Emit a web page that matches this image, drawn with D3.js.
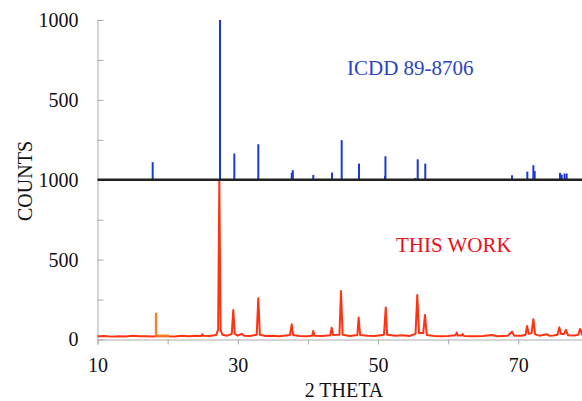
<!DOCTYPE html>
<html>
<head>
<meta charset="utf-8">
<script src="https://cdn.jsdelivr.net/npm/d3@7"></script>
<style>
    body { margin: 0; background: #fff; }
    svg { display: block; }
</style>
</head>
<body>
<div id="chart"></div>
<script>
// x axis ticks (2 THETA)
const xTicks = [10, 20, 30, 40, 50, 60, 70, 80];
const xTickLabels = ["10", "", "30", "", "50", "", "70", ""];

// y axis: the reference pattern is shifted up by 1000 counts
const yTicks = [0, 250, 500, 750, 1000, 1250, 1500, 1750, 2000];
const yTickLabels = ["0", "", "500", "", "1000", "", "500", "", "1000"];
const refOffset = 1000;

// ICDD 89-8706 stick pattern
const icddAngles = [17.87, 27.47, 29.51, 32.93, 37.70, 37.85, 40.77, 43.44, 44.82, 47.29,
    51.00, 51.06, 55.32, 55.66, 56.74, 69.11, 71.29, 72.15, 72.34, 75.95, 76.19, 76.60, 76.90];
const icddCounts = [110, 1000, 164, 222, 43, 60, 30, 45, 248, 101,
    24, 147, 11, 128, 101, 28, 51, 91, 55, 43, 32, 39, 39];

// measured pattern (THIS WORK)
const workAngles = [10, 11, 12, 13, 14, 15, 16, 17, 18, 19, 20, 21, 22, 23, 24, 24.8, 24.95, 25.1, 26,
    26.9, 27.2, 27.37, 27.55, 27.8, 28.5, 29.15, 29.36, 29.57, 30, 30.55, 30.9, 31.8,
    32.7, 32.93, 33.15, 34, 35, 36, 37.45, 37.69, 37.9, 38.8, 39.8, 40.6, 40.77, 40.95, 42,
    43.2, 43.39, 43.58, 44.5, 44.72, 44.95, 46, 47.05, 47.24, 47.45, 48.5, 49.5, 50.85, 51.1, 51.3,
    52.5, 53.5, 54.5, 55.35, 55.6, 55.85, 56.45, 56.7, 56.95, 58, 59, 60, 61.05, 61.22, 61.4,
    61.9, 62.07, 62.25, 63.5, 65, 66.2, 67, 68.5, 69.11, 69.4, 70.5, 71.05, 71.25, 71.5, 71.9,
    72.15, 72.4, 73, 74.05, 74.4, 75, 75.6, 75.85, 76.1, 76.5, 76.8, 77.1, 78, 78.55, 78.8, 79.1, 80];
const workCounts = [20, 22, 18, 21, 19, 23, 20, 21, 19, 22, 20, 19, 23, 21, 24, 22, 32, 23, 22,
    28, 60, 995, 60, 30, 24, 35, 185, 35, 24, 35, 24, 22,
    30, 258, 30, 22, 24, 21, 28, 95, 28, 22, 20, 24, 53, 24, 22,
    26, 74, 28, 30, 304, 30, 22, 28, 137, 28, 24, 22, 30, 200, 30,
    24, 27, 22, 35, 279, 40, 40, 154, 28, 22, 20, 22, 26, 43, 25,
    25, 34, 22, 21, 22, 28, 21, 24, 49, 24, 24, 30, 85, 35, 40,
    127, 32, 24, 33, 24, 25, 30, 76, 35, 35, 60, 26, 25, 30, 66, 30, 25];

// marked impurity peak
const impurityAngles = [18.35, 18.35, 20.2];
const impurityCounts = [168, 24, 24];

const serif = "'Liberation Serif', 'Times New Roman', Times, serif";

function renderChart() {
    const width = 582, height = 401;

    const svg = d3.select("#chart").append("svg")
        .attr("width", width)
        .attr("height", height);

    const x = d3.scaleLinear()
        .domain([10, 80])
        .range([97.5, 588.4]);

    const y = d3.scaleLinear()
        .domain([0, 2000])
        .range([339.5, 20]);

    // x axis
    const xAxis = svg.append("g")
        .attr("transform", "translate(0," + y(0) + ")")
        .call(d3.axisBottom(x)
            .tickValues(xTicks)
            .tickSize(5)
            .tickPadding(13)
            .tickFormat((d, i) => xTickLabels[i]));
    xAxis.attr("font-family", serif).attr("font-size", 20);
    xAxis.select(".domain").attr("stroke", "#aaa");
    xAxis.selectAll(".tick line").attr("stroke", "#aaa");
    xAxis.selectAll("text").style("font-family", serif).style("font-size", "20px").attr("fill", "#111");

    // y axis
    const yAxis = svg.append("g")
        .attr("transform", "translate(" + x(10) + ",0)")
        .call(d3.axisLeft(y)
            .tickValues(yTicks)
            .tickSizeInner(-6)
            .tickSizeOuter(0)
            .tickPadding(19)
            .tickFormat((d, i) => yTickLabels[i]));
    yAxis.attr("font-family", serif).attr("font-size", 20);
    yAxis.select(".domain").attr("stroke", "#aaa");
    yAxis.selectAll(".tick line").attr("stroke", "#aaa");
    yAxis.selectAll("text").style("font-family", serif).style("font-size", "20px").attr("fill", "#111");

    // measured pattern
    const line = d3.line()
        .x(d => x(d[0]))
        .y(d => y(d[1]));

    svg.append("path")
        .datum(workAngles.map((a, i) => [a, workCounts[i]]))
        .attr("fill", "none")
        .attr("stroke", "#ff3311")
        .attr("stroke-width", 2)
        .attr("stroke-linejoin", "round")
        .attr("d", line);

    svg.append("path")
        .datum(impurityAngles.map((a, i) => [a, impurityCounts[i]]))
        .attr("fill", "none")
        .attr("stroke", "#f58025")
        .attr("stroke-width", 2.4)
        .attr("d", line);

    // ICDD sticks
    svg.append("g")
        .selectAll("line")
        .data(icddAngles.map((a, i) => ({ angle: a, count: icddCounts[i] })))
        .enter().append("line")
        .attr("x1", d => x(d.angle))
        .attr("x2", d => x(d.angle))
        .attr("y1", y(refOffset))
        .attr("y2", d => y(refOffset + d.count))
        .attr("stroke", "#1a3ad8")
        .attr("stroke-width", 2);

    // reference baseline
    svg.append("line")
        .attr("x1", x(10))
        .attr("x2", x(80))
        .attr("y1", y(refOffset))
        .attr("y2", y(refOffset))
        .attr("stroke", "#222")
        .attr("stroke-width", 2.3);

    // labels
    svg.append("text")
        .attr("x", 347)
        .attr("y", 75)
        .style("font-family", serif)
        .style("font-size", "21px")
        .attr("fill", "#2a44c4")
        .text("ICDD 89-8706");

    svg.append("text")
        .attr("x", 396)
        .attr("y", 252)
        .style("font-family", serif)
        .style("font-size", "21px")
        .attr("fill", "#e8101a")
        .text("THIS WORK");

    svg.append("text")
        .attr("x", 344)
        .attr("y", 397)
        .style("text-anchor", "middle")
        .style("font-family", serif)
        .style("font-size", "20px")
        .attr("fill", "#111")
        .text("2 THETA");

    svg.append("text")
        .attr("transform", "rotate(-90)")
        .attr("x", -181)
        .attr("y", 32)
        .style("text-anchor", "middle")
        .style("font-family", serif)
        .style("font-size", "20px")
        .attr("fill", "#111")
        .text("COUNTS");
}

renderChart();
</script>
</body>
</html>
